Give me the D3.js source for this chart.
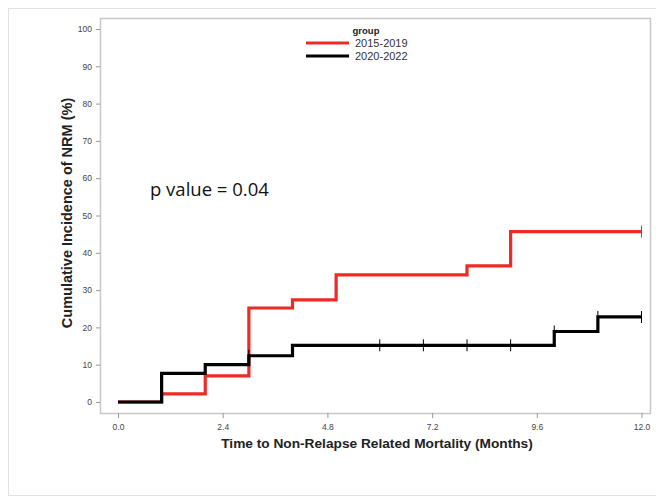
<!DOCTYPE html>
<html>
<head>
<meta charset="utf-8">
<script src="https://cdn.jsdelivr.net/npm/d3@7/dist/d3.min.js"></script>
<style>
  body { margin: 0; background: #fff; }
  svg text { font-family: "Liberation Sans", Arial, sans-serif; }
</style>
</head>
<body>
<div id="chart"></div>
<script>
// step data (time in months, incidence in %)
const groups = ["2015-2019", "2020-2022"]
const colors = ["#ee2a24", "#000000"]

const redTimes = [0, 1, 2, 3, 4, 5, 8, 9, 12]
const redValues = [0, 2.2, 7.0, 25.2, 27.4, 34.1, 36.5, 45.7, 45.7]
const redCensor = [12]

const blackTimes = [0, 1, 2, 3, 4, 10, 11, 12]
const blackValues = [0, 7.7, 10.0, 12.4, 15.2, 18.9, 22.8, 22.8]
const blackCensor = [3, 6, 7, 8, 9, 10, 11, 12]

const xTicks = [0, 2.4, 4.8, 7.2, 9.6, 12.0]
const yTicks = [0, 10, 20, 30, 40, 50, 60, 70, 80, 90, 100]

const width = 656, height = 498

var svg = d3.select("#chart").append("svg")
    .attr("width", width)
    .attr("height", height)

// outer panel
svg.append("rect")
    .attr("x", 8.5).attr("y", 8.5)
    .attr("width", 660).attr("height", 487)
    .attr("fill", "#fff")
    .style("stroke", "#e2e2e2")

// plot frame
var frame = {left: 100, top: 18, right: 650, bottom: 413}
svg.append("rect")
    .attr("x", frame.left + 0.5).attr("y", frame.top + 0.5)
    .attr("width", frame.right - frame.left).attr("height", frame.bottom - frame.top)
    .attr("fill", "none")
    .style("stroke", "#c8c8c8")
    .style("stroke-width", 1.5)

var x = d3.scaleLinear().domain([0, 12]).range([118, 641.5])
var y = d3.scaleLinear().domain([0, 100]).range([402, 29])

// axes
var xAxis = svg.append("g")
    .attr("transform", "translate(0," + frame.bottom + ")")
    .call(d3.axisBottom(x).tickValues(xTicks).tickSize(5).tickPadding(6)
          .tickFormat(d3.format(".1f")))
var yAxis = svg.append("g")
    .attr("transform", "translate(" + frame.left + ",0)")
    .call(d3.axisLeft(y).tickValues(yTicks).tickSize(4).tickPadding(4))

;[xAxis, yAxis].forEach(function (a) {
  a.select(".domain").remove()
  a.selectAll("line").style("stroke", "#999")
  a.selectAll("text").style("fill", "#444").style("font-size", "8.5px")
})

// axis titles
svg.append("text")
    .attr("text-anchor", "middle")
    .attr("transform", "translate(377,448)")
    .style("font-weight", "bold").style("font-size", "13.7px").style("fill", "#222")
    .text("Time to Non-Relapse Related Mortality (Months)")
svg.append("text")
    .attr("text-anchor", "middle")
    .attr("transform", "translate(72,213)rotate(-90)")
    .style("font-weight", "bold").style("font-size", "14.5px").style("fill", "#222")
    .text("Cumulative Incidence of NRM  (%)")

// p value
svg.append("text")
    .attr("x", 150).attr("y", 196)
    .style("font-size", "18.5px").style("fill", "#111")
    .style("font-family", "'Open Sans', sans-serif")
    .text("p value = 0.04")

// step curves
var stepLine = d3.line()
    .x(function (d) { return x(d.t) })
    .y(function (d) { return y(d.v) })
    .curve(d3.curveStepAfter)

function toPoints(times, values) {
  return times.map(function (t, i) { return {t: t, v: values[i]} })
}

function valueAt(times, values, t) {
  var v = values[0]
  for (var i = 0; i < times.length; i++) { if (times[i] <= t) v = values[i] }
  return v
}

var series = [
  {times: redTimes, values: redValues, censor: redCensor, color: colors[0]},
  {times: blackTimes, values: blackValues, censor: blackCensor, color: colors[1]}
]

series.forEach(function (s) {
  svg.append("path")
      .attr("d", stepLine(toPoints(s.times, s.values)))
      .attr("fill", "none")
      .style("stroke", s.color)
      .style("stroke-width", 3.2)
  svg.selectAll(null)
      .data(s.censor)
      .enter().append("line")
      .attr("x1", function (d) { return x(d) })
      .attr("x2", function (d) { return x(d) })
      .attr("y1", function (d) { return y(valueAt(s.times, s.values, d)) - 6 })
      .attr("y2", function (d) { return y(valueAt(s.times, s.values, d)) + 6 })
      .style("stroke", s.color)
      .style("stroke-width", 1)
})

// legend
var legend = svg.append("g")
legend.append("text")
    .attr("x", 366).attr("y", 34)
    .attr("text-anchor", "middle")
    .style("font-weight", "bold").style("font-size", "9.5px").style("fill", "#222")
    .text("group")
groups.forEach(function (g, i) {
  legend.append("line")
      .attr("x1", 306).attr("x2", 349)
      .attr("y1", 43 + i * 13).attr("y2", 43 + i * 13)
      .style("stroke", colors[i]).style("stroke-width", 3)
  legend.append("text")
      .attr("x", 355).attr("y", 47 + i * 13)
      .style("font-size", "11px").style("fill", "#333")
      .text(g)
})
</script>
</body>
</html>
